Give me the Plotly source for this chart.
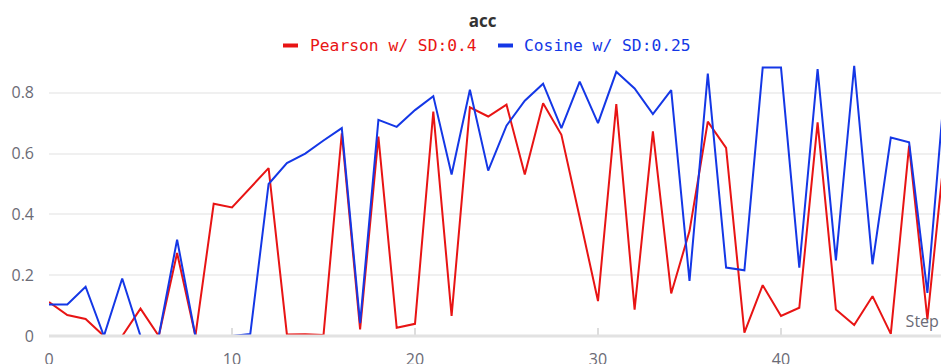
import plotly.graph_objects as go

steps = list(range(50))
pearson = [0.112, 0.069, 0.056, 0.0, 0.0, 0.09, 0.0, 0.273, 0.0, 0.435,
           0.423, 0.486, 0.552, 0.005, 0.006, 0.003, 0.667, 0.022, 0.656, 0.027,
           0.04, 0.738, 0.066, 0.752, 0.722, 0.761, 0.531, 0.766, 0.662, 0.39,
           0.115, 0.763, 0.087, 0.673, 0.14, 0.345, 0.705, 0.619, 0.011, 0.167,
           0.066, 0.093, 0.703, 0.087, 0.036, 0.131, 0.007, 0.626, 0.055, 0.64]
cosine = [0.104, 0.104, 0.162, 0.0, 0.189, 0.0, 0.0, 0.317, 0.0, 0.0,
          0.0, 0.007, 0.5, 0.569, 0.6, 0.643, 0.684, 0.042, 0.711, 0.688,
          0.743, 0.789, 0.531, 0.81, 0.544, 0.692, 0.774, 0.83, 0.684, 0.837,
          0.70, 0.869, 0.814, 0.73, 0.809, 0.181, 0.863, 0.225, 0.216, 0.883,
          0.883, 0.225, 0.878, 0.249, 0.889, 0.236, 0.653, 0.637, 0.142, 0.86]

series_names = ["Pearson w/ SD:0.4", "Cosine w/ SD:0.25"]
series_colors = ["#e81414", "#1437e6"]
x_ticks = [0, 10, 20, 30, 40]
y_ticks = [0, 0.2, 0.4, 0.6, 0.8]

W, H = 941, 364
ML, MR, MT, MB = 49, 0, 60, 28
PW, PH = W - ML - MR, H - MT - MB

tick_font = dict(family="Source Sans 3, Source Sans Pro, Noto Sans, sans-serif", size=16, color="#6b6b76")

fig = go.Figure()
for name, vals, col in zip(series_names, [pearson, cosine], series_colors):
    fig.add_trace(go.Scatter(x=steps, y=vals, mode="lines", name=name,
                             line=dict(color=col, width=2), showlegend=False))

fig.update_layout(
    width=W, height=H,
    margin=dict(l=ML, r=MR, t=MT, b=MB, autoexpand=False),
    paper_bgcolor="white", plot_bgcolor="white",
    title=dict(text="<b>acc</b>", x=482.5 / W, xref="container", xanchor="center",
               y=1 - 21.5 / H, yref="container", yanchor="middle",
               font=dict(family="Open Sans, Noto Sans, sans-serif", size=17, color="#333333")),
    xaxis=dict(range=[0, PW / 18.3], tickvals=x_ticks, showgrid=False, zeroline=False,
               showline=False, automargin=False,
               ticks="inside", ticklen=8, tickwidth=1.5, tickcolor="#dddddd",
               tickfont=tick_font, ticklabelstandoff=12),
    yaxis=dict(range=[0, PH / 304.0], tickvals=y_ticks, showgrid=True, gridcolor="#f0f0f0",
               gridwidth=1.5, zeroline=False, showline=False, ticks="", automargin=False,
               tickfont=tick_font, ticklabelstandoff=14),
)

# baseline drawn above the traces (as in the reference, it hides segments lying on zero)
fig.add_shape(type="line", xref="paper", yref="paper", x0=0, x1=1, y0=0, y1=0,
              line=dict(color="#e2e2e2", width=3), layer="above")


def px_to_paper_x(px):
    return (px - ML) / PW


def py_to_paper_y(py):
    return (H - MB - py) / PH


legend_dash_x = [283, 498]
legend_text_x = [307.5, 522]
legend_y = 45.5
for name, col, dx, tx in zip(series_names, series_colors, legend_dash_x, legend_text_x):
    fig.add_shape(type="line", xref="paper", yref="paper",
                  x0=px_to_paper_x(dx), x1=px_to_paper_x(dx + 15),
                  y0=py_to_paper_y(legend_y), y1=py_to_paper_y(legend_y),
                  line=dict(color=col, width=4))
    fig.add_annotation(xref="paper", yref="paper", x=px_to_paper_x(tx), y=py_to_paper_y(legend_y),
                       xanchor="left", yanchor="middle", showarrow=False, text=name,
                       font=dict(family="DejaVu Sans Mono, Liberation Mono, monospace", size=16.3, color=col))

fig.add_annotation(xref="paper", yref="paper", x=px_to_paper_x(938), y=0, xanchor="right",
                   yanchor="bottom", yshift=3, showarrow=False, text="Step",
                   font=dict(family=tick_font["family"], size=16, color="#6b6b76"))

fig.write_html("out.html", config={"displayModeBar": False},
               post_script="document.body.style.margin='0';document.body.style.overflow='hidden';")
